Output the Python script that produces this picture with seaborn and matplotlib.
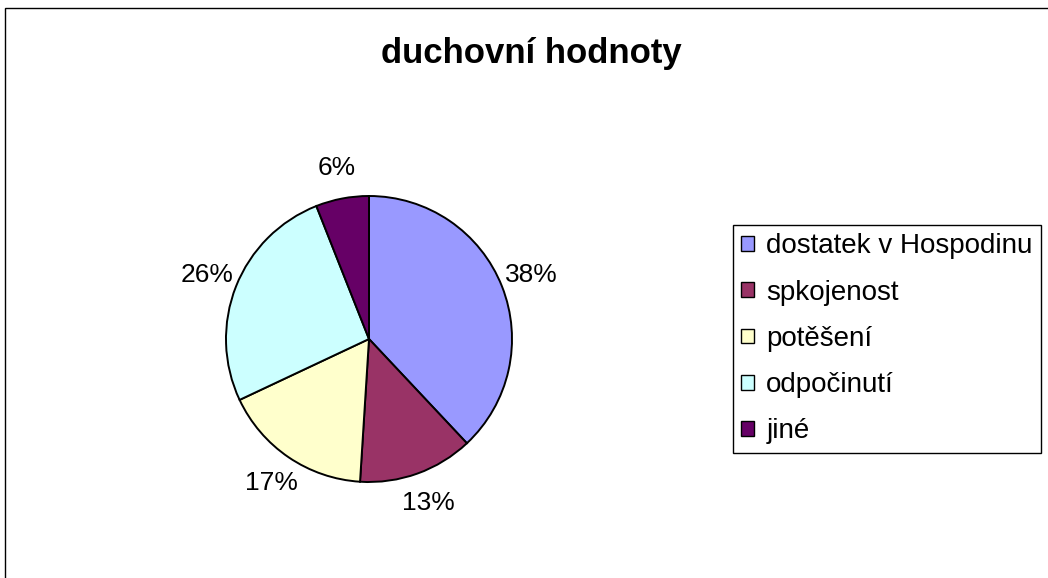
import matplotlib.pyplot as plt
import matplotlib.patches as mpatches
import seaborn as sns

labels = ["dostatek v Hospodinu", "spkojenost", "potěšení", "odpočinutí", "jiné"]
values = [38, 13, 17, 26, 6]
colors = ["#9999FF", "#993366", "#FFFFCC", "#CCFFFF", "#660066"]

sns.set_theme(style="white")
plt.rcParams["font.family"] = ["Liberation Sans", "DejaVu Sans"]
plt.rcParams["text.color"] = "black"

W, H = 1048, 578
fig = plt.figure(figsize=(W / 100, H / 100), dpi=100)

# pie centered at (369, 339) px with radius 143 px
cx, cy, r = 369, 339, 143
half = r * 1.25
ax = fig.add_axes([(cx - half) / W, (H - cy - half) / H, 2 * half / W, 2 * half / H])
wedges, texts, autotexts = ax.pie(
    values, colors=sns.color_palette(colors), startangle=90, counterclock=False,
    autopct="%1.0f%%", pctdistance=1.22,
    wedgeprops=dict(edgecolor="black", linewidth=1.4),
    textprops=dict(fontsize=19, color="black"))
ax.set_aspect("equal")

fig.text(531 / W, 1 - 54 / H, "duchovní hodnoty", ha="center", va="center",
         fontsize=25, fontweight="bold", color="black")

handles = [mpatches.Patch(facecolor=c, edgecolor="black", linewidth=1) for c in colors]
leg = fig.legend(handles, labels, loc="upper left", bbox_to_anchor=(733 / W, 1 - 225 / H),
                 fontsize=20, frameon=True, fancybox=False, framealpha=1,
                 edgecolor="black", borderaxespad=0, borderpad=0.3,
                 handlelength=0.45, handleheight=0.45, handletextpad=0.45,
                 labelspacing=0.73, labelcolor="black")
leg.get_frame().set_linewidth(1)

# outer chart border (only top and left visible in the crop)
fig.patches.append(mpatches.Rectangle((5 / W, -0.1), 1.2, (H - 8) / H + 0.1,
                                      transform=fig.transFigure, fill=False,
                                      edgecolor="black", linewidth=1))

fig.savefig("out.png", dpi=100)
